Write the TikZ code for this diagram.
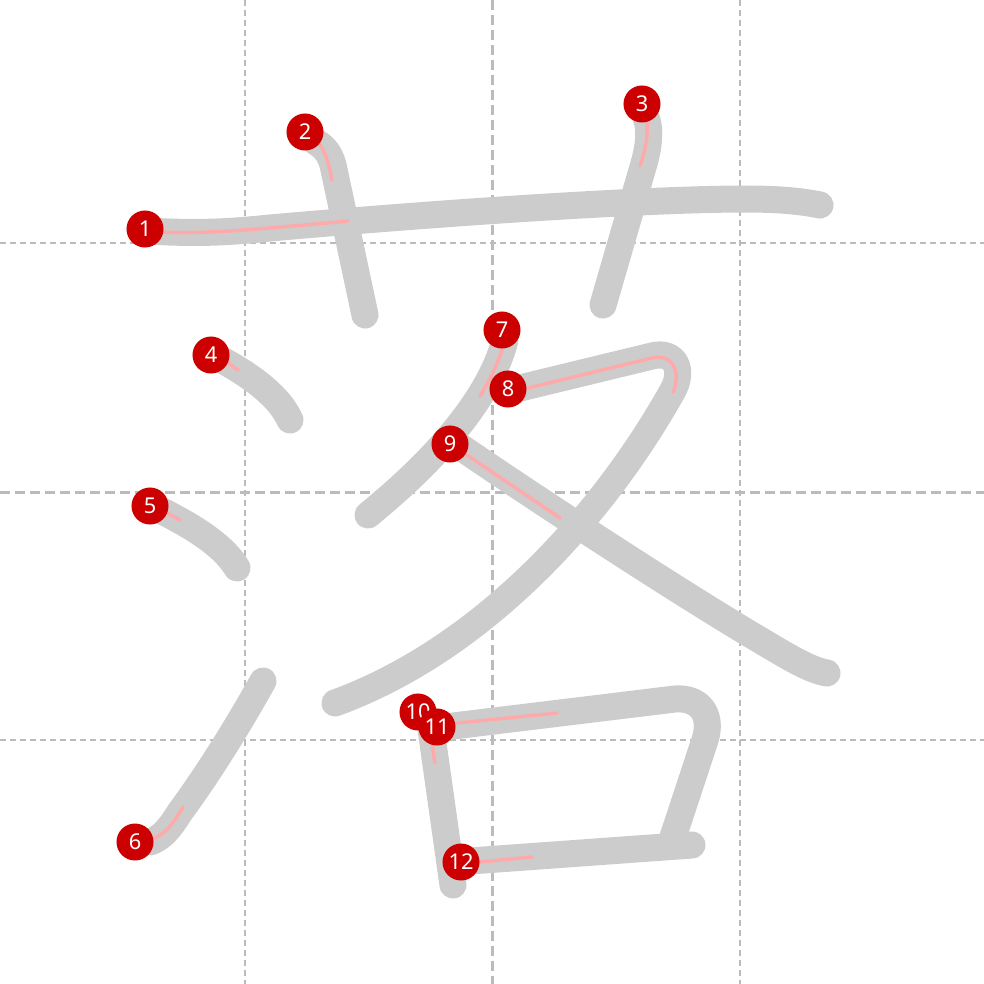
\documentclass[tikz,border=0pt]{standalone}
\usepackage{fontspec}
\setmainfont{Noto Sans}
\definecolor{strokegray}{HTML}{CCCCCC}
\definecolor{hintred}{HTML}{FFAAAA}
\definecolor{dotred}{HTML}{CC0000}
\definecolor{gridgray}{HTML}{BBBBBB}

\begin{document}
\begin{tikzpicture}[x=0.01cm, y=-0.01cm,
  guide/.style={gridgray, line width=0.02cm, dash pattern=on 0.06cm off 0.04cm},
  midguide/.style={gridgray, line width=0.03cm, dash pattern=on 0.1cm off 0.05cm},
  brush/.style={strokegray, line width=0.27cm, line cap=round, line join=round},
  hint/.style={hintred, line width=0.035cm, line cap=round},
  num/.style={circle, fill=dotred, text=white, inner sep=0pt, minimum size=0.37cm,
    font=\fontsize{6.2}{7}\selectfont}]

\useasboundingbox (0,0) rectangle (984,984);

% Grid
\draw[guide] (245,0) -- (245,984);
\draw[guide] (740,0) -- (740,984);
\draw[guide] (0,243) -- (984,243);
\draw[guide] (0,740) -- (984,740);
\draw[midguide] (492,0) -- (492,984);
\draw[midguide] (0,492) -- (984,492);

% Strokes
\draw[brush] (148,231) .. controls (200,234) and (230,232) .. (270,228)
  .. controls (450,212) and (650,199) .. (745,199) .. controls (785,199) and (805,202) .. (820,205);
\draw[brush] (316,142) .. controls (326,148) and (330,155) .. (333,165) -- (365,315);
\draw[brush] (645,115) .. controls (650,125) and (650,140) .. (645,160) -- (603,305);
\draw[brush] (222,360) .. controls (255,378) and (280,398) .. (290,420);
\draw[brush] (160,510) .. controls (200,530) and (225,548) .. (237,568);
\draw[brush] (263,681) .. controls (230,740) and (200,785) .. (180,812)
  .. controls (170,828) and (162,838) .. (150,842);
\draw[brush] (505,340) .. controls (495,380) and (460,440) .. (368,515);
\draw[brush] (520,388) -- (652,356) .. controls (675,350) and (685,370) .. (672,392)
  .. controls (600,520) and (480,650) .. (335,703);
\draw[brush] (462,448) .. controls (560,515) and (700,605) .. (760,640)
  .. controls (790,658) and (810,670) .. (827,673);
\draw[brush] (430,722) -- (453,885);
\draw[brush] (445,727) -- (675,699) .. controls (700,697) and (713,715) .. (705,740) -- (672,840);
\draw[brush] (470,861) -- (692,845);

% Start hints
\draw[hint] (160,232) .. controls (200,234) and (240,231) .. (348,221);
\draw[hint] (320,145) .. controls (325,152) and (328,160) .. (332,180);
\draw[hint] (647,123) .. controls (648,135) and (646,148) .. (640,166);
\draw[hint] (225,361) -- (238,370);
\draw[hint] (167,513) -- (180,520);
\draw[hint] (183,807) .. controls (175,820) and (168,832) .. (155,838);
\draw[hint] (502,350) .. controls (497,365) and (490,380) .. (480,396);
\draw[hint] (528,388) -- (652,358) .. controls (672,353) and (682,372) .. (673,392);
\draw[hint] (467,455) -- (560,518);
\draw[hint] (432,745) -- (435,763);
\draw[hint] (457,723) -- (557,713);
\draw[hint] (480,862) -- (532,857);

% Stroke numbers
\foreach \n/\x/\y in {1/145/229, 2/305/132, 3/642/104, 4/211/355, 5/150/506, 6/135/842,
  7/502/330, 8/508/389, 9/450/444, 10/418/712, 11/437/727, 12/461/862}
  \node[num] (n\n) at (\x,\y) {\n};

\end{tikzpicture}
\end{document}
